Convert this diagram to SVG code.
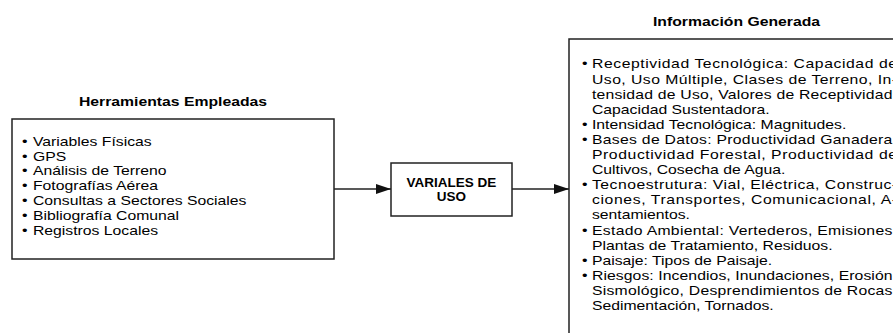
<svg xmlns="http://www.w3.org/2000/svg" width="893" height="333" viewBox="0 0 893 333">
<style>
  .box { fill:#fff; stroke:#222; stroke-width:1.5; }
  .t { font-family:"Liberation Sans", Arial, sans-serif; font-size:12.6px; fill:#000; }
  .b { font-weight:bold; }
  .m { font-family:"Liberation Sans", Arial, sans-serif; font-size:13.5px; font-weight:bold; fill:#000; }
  .conn { stroke:#222; stroke-width:1.5; fill:none; }
</style>
<defs>
  <marker id="ah" markerWidth="15" markerHeight="10" refX="15" refY="5" orient="auto" markerUnits="userSpaceOnUse">
    <path d="M0,0 L15,5 L0,10 Z" fill="#111"/>
  </marker>
</defs>
<rect width="893" height="333" fill="#fff"/>

<g id="herramientas">
  <rect class="box" x="12" y="119" width="322" height="140"/>
  <g transform="scale(1.25,1)">
    <text class="t b" x="138.4" y="106" text-anchor="middle">Herramientas Empleadas</text>
    <text class="t" x="17.6" y="145.7">•</text><text class="t" x="26.4" y="145.7">Variables Físicas</text>
    <text class="t" x="17.6" y="160.6">•</text><text class="t" x="26.4" y="160.6">GPS</text>
    <text class="t" x="17.6" y="175.5">•</text><text class="t" x="26.4" y="175.5">Análisis de Terreno</text>
    <text class="t" x="17.6" y="190.4">•</text><text class="t" x="26.4" y="190.4">Fotografías Aérea</text>
    <text class="t" x="17.6" y="205.3">•</text><text class="t" x="26.4" y="205.3">Consultas a Sectores Sociales</text>
    <text class="t" x="17.6" y="220.2">•</text><text class="t" x="26.4" y="220.2">Bibliografía Comunal</text>
    <text class="t" x="17.6" y="235.1">•</text><text class="t" x="26.4" y="235.1">Registros Locales</text>
  </g>
</g>

<g id="variales">
  <rect class="box" x="391" y="163" width="121" height="53"/>
  <text class="m" x="451.5" y="187" text-anchor="middle">VARIALES DE</text>
  <text class="m" x="451.5" y="201" text-anchor="middle">USO</text>
</g>

<g id="informacion">
  <rect class="box" x="569" y="39" width="340" height="310"/>
  <g transform="scale(1.25,1)">
    <text class="t b" x="589.2" y="26.5" text-anchor="middle">Información Generada</text>
    <text class="t" x="465.6" y="68.5">•</text>
    <text class="t" x="473.6" y="68.5" textLength="244" lengthAdjust="spacing">Receptividad Tecnológica: Capacidad de</text>
    <text class="t" x="473.6" y="83.6" textLength="244" lengthAdjust="spacing">Uso, Uso Múltiple, Clases de Terreno, In-</text>
    <text class="t" x="473.6" y="98.7" textLength="244" lengthAdjust="spacing">tensidad de Uso, Valores de Receptividad,</text>
    <text class="t" x="473.6" y="113.8">Capacidad Sustentadora.</text>
    <text class="t" x="465.6" y="128.9">•</text>
    <text class="t" x="473.6" y="128.9">Intensidad Tecnológica: Magnitudes.</text>
    <text class="t" x="465.6" y="144">•</text>
    <text class="t" x="473.6" y="144" textLength="244" lengthAdjust="spacing">Bases de Datos: Productividad Ganadera,</text>
    <text class="t" x="473.6" y="159.1" textLength="244" lengthAdjust="spacing">Productividad Forestal, Productividad de</text>
    <text class="t" x="473.6" y="174.2">Cultivos, Cosecha de Agua.</text>
    <text class="t" x="465.6" y="189.3">•</text>
    <text class="t" x="473.6" y="189.3" textLength="244" lengthAdjust="spacing">Tecnoestrutura: Vial, Eléctrica, Construc-</text>
    <text class="t" x="473.6" y="204.4" textLength="244" lengthAdjust="spacing">ciones, Transportes, Comunicacional, A-</text>
    <text class="t" x="473.6" y="219.5">sentamientos.</text>
    <text class="t" x="465.6" y="234.6">•</text>
    <text class="t" x="473.6" y="234.6" textLength="244" lengthAdjust="spacing">Estado Ambiental: Vertederos, Emisiones,</text>
    <text class="t" x="473.6" y="249.7">Plantas de Tratamiento, Residuos.</text>
    <text class="t" x="465.6" y="264.8">•</text>
    <text class="t" x="473.6" y="264.8">Paisaje: Tipos de Paisaje.</text>
    <text class="t" x="465.6" y="279.9">•</text>
    <text class="t" x="473.6" y="279.9" textLength="244" lengthAdjust="spacing">Riesgos: Incendios, Inundaciones, Erosión,</text>
    <text class="t" x="473.6" y="295" textLength="244" lengthAdjust="spacing">Sismológico, Desprendimientos de Rocas,</text>
    <text class="t" x="473.6" y="310.1">Sedimentación, Tornados.</text>
  </g>
</g>

<g id="connectors">
  <line class="conn" x1="334" y1="189" x2="391" y2="189" marker-end="url(#ah)"/>
  <line class="conn" x1="512" y1="189" x2="569" y2="189" marker-end="url(#ah)"/>
</g>
</svg>
